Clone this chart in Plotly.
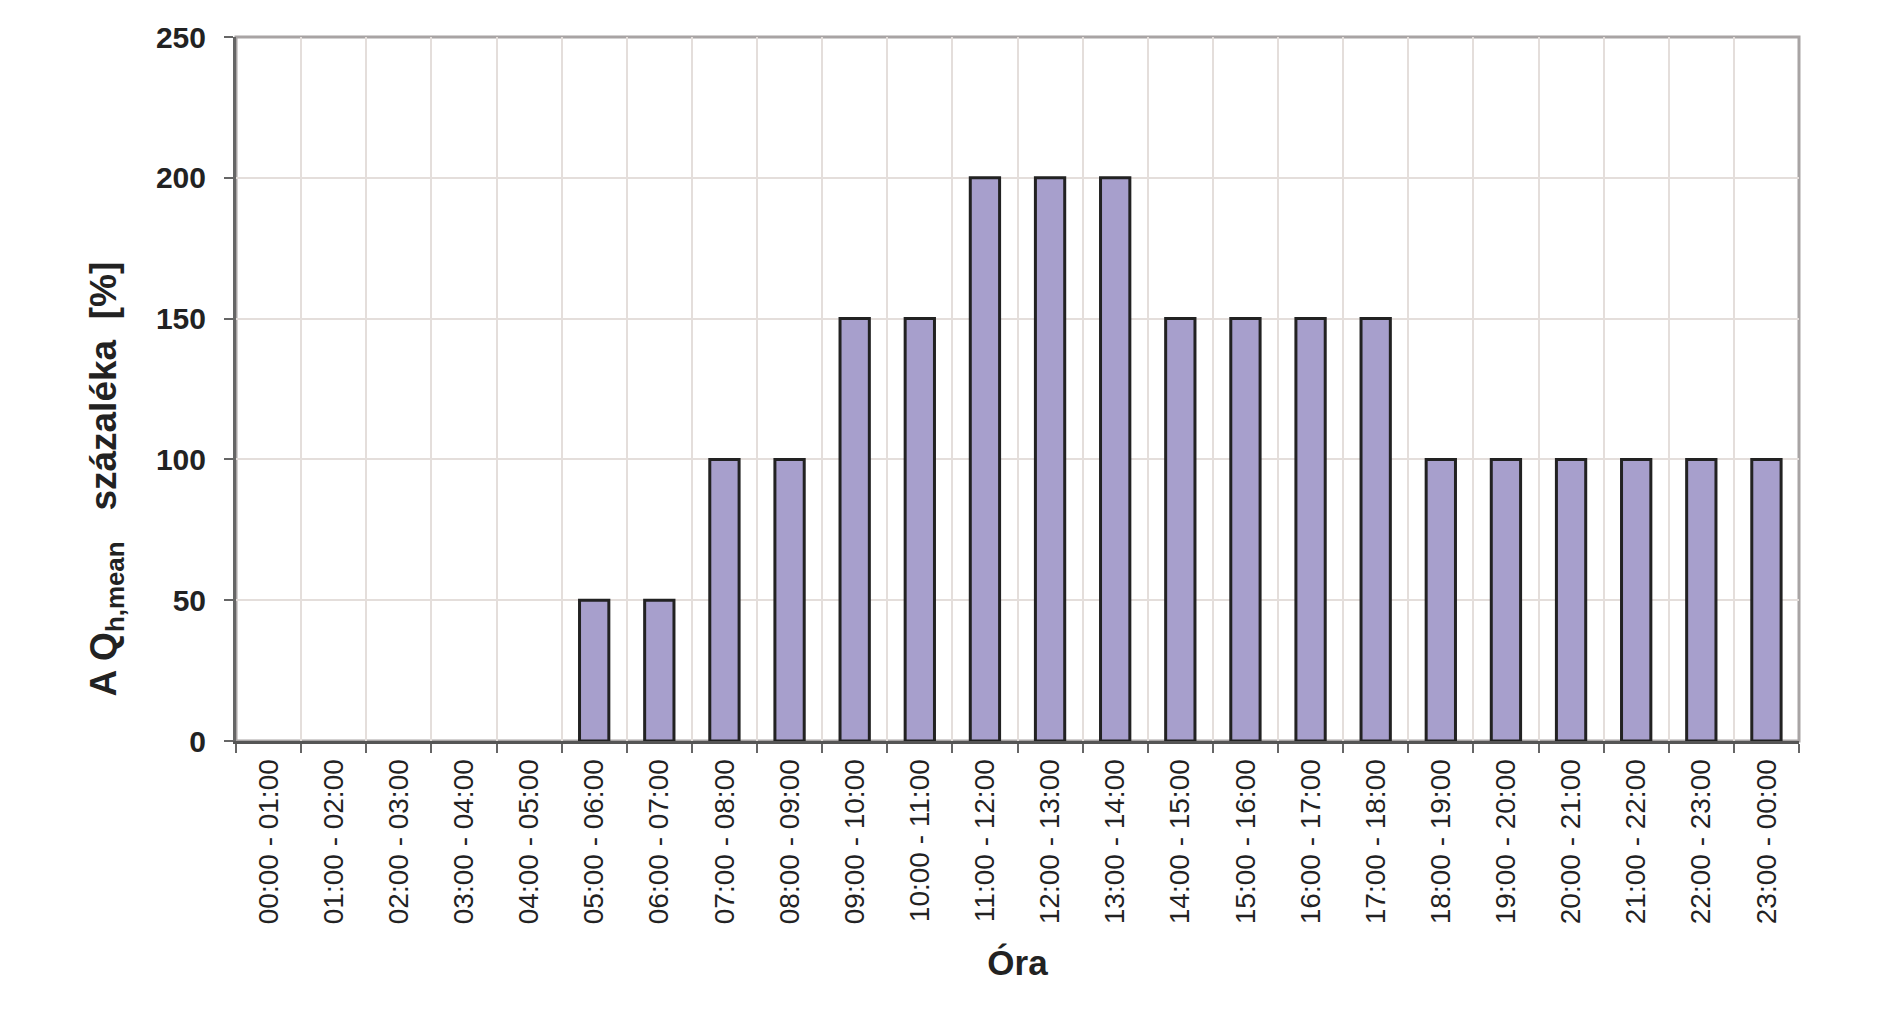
import plotly.graph_objects as go

categories = ["00:00 - 01:00", "01:00 - 02:00", "02:00 - 03:00", "03:00 - 04:00",
              "04:00 - 05:00", "05:00 - 06:00", "06:00 - 07:00", "07:00 - 08:00",
              "08:00 - 09:00", "09:00 - 10:00", "10:00 - 11:00", "11:00 - 12:00",
              "12:00 - 13:00", "13:00 - 14:00", "14:00 - 15:00", "15:00 - 16:00",
              "16:00 - 17:00", "17:00 - 18:00", "18:00 - 19:00", "19:00 - 20:00",
              "20:00 - 21:00", "21:00 - 22:00", "22:00 - 23:00", "23:00 - 00:00"]
values = [0, 0, 0, 0, 0, 50, 50, 100, 100, 150, 150, 200, 200, 200,
          150, 150, 150, 150, 100, 100, 100, 100, 100, 100]
y_ticks = [0, 50, 100, 150, 200, 250]

FONT = "Liberation Sans, Arial, sans-serif"

fig = go.Figure()
fig.add_trace(go.Bar(
    x=categories, y=values,
    marker=dict(color="#a79fcc",
                line=dict(color="#222222", width=[3 if v > 0 else 0 for v in values])),
    showlegend=False,
))

fig.update_layout(
    width=1882, height=1002,
    margin=dict(l=228, r=91, t=24, b=269),
    paper_bgcolor="white", plot_bgcolor="white",
    bargap=0.55,
    font=dict(family=FONT, color="#222222"),
    xaxis=dict(
        type="category", tickson="boundaries",
        showgrid=True, gridcolor="#e4dedb", gridwidth=2,
        showline=True, linecolor="#555555", linewidth=3,
        ticks="outside", ticklen=9, tickwidth=2, tickcolor="#666666",
        ticklabelstandoff=4,
        tickangle=-90, tickfont=dict(size=28, family=FONT, color="#222222"),
        title=dict(text="<b>Óra</b>", font=dict(size=35, family=FONT, color="#222222"), standoff=28),
    ),
    yaxis=dict(
        range=[0, 250], tickvals=y_ticks,
        ticktext=[f"<b>{v}</b>" for v in y_ticks],
        showgrid=True, gridcolor="#e4dedb", gridwidth=2,
        showline=True, linecolor="#666666", linewidth=3,
        ticks="outside", ticklen=9, tickwidth=2, tickcolor="#666666",
        ticklabelstandoff=12,
        tickfont=dict(size=30, family=FONT, color="#222222"),
        zeroline=False,
    ),
    shapes=[dict(type="rect", xref="paper", yref="paper", x0=0, x1=1, y0=0, y1=1,
                 line=dict(color="#a8a4a4", width=3), layer="below")],
    annotations=[dict(
        text="<b>A Q<sub>h,mean</sub>   százaléka  [%]</b>",
        xref="paper", yref="paper", x=-0.083, y=0.06, xanchor="center", yanchor="bottom",
        textangle=-90, showarrow=False,
        font=dict(size=37, family=FONT, color="#222222"),
    )],
)

fig.write_html("out.html")
